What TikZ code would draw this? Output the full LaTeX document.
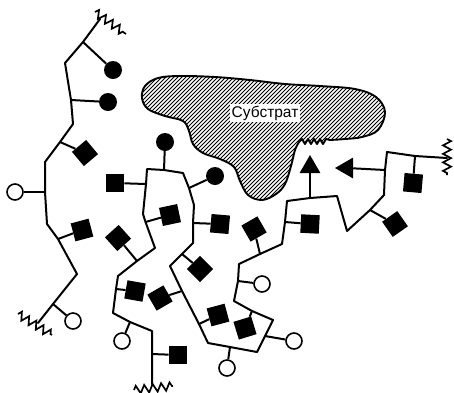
\documentclass[tikz,border=0pt]{standalone}
\usepackage{fontspec}
\setmainfont{Liberation Sans}
\usetikzlibrary{shapes.geometric,decorations.pathmorphing}

% outline of the substrate body, with the toothed binding edge
\newcommand{\substratepath}{%
  (299,142) -- (302,139) -- (305,144) -- (308,139) -- (311,144) -- (314,139)
  -- (317,144) -- (320,139) -- (323,144) -- (326,139) -- (330,140)
  -- plot[smooth, tension=0.6] coordinates {
    (330,140) (345,139) (362,137) (378,130) (385,112) (376,97) (355,89)
    (320,86) (285,84) (250,80) (215,77) (180,76) (158,78) (145,86)
    (142,98) (148,109) (165,116) (183,121) (189,131) (193,144) (203,153)
    (220,159) (234,167) (240,181) (248,195) (262,200) (276,194) (285,184)
    (291,166) (295,150) (299,142)} -- cycle}

\begin{document}
\begin{tikzpicture}[x=1pt,y=-1pt,
  chain/.style={line width=2pt, line join=round, line cap=round},
  link/.style={line width=2pt},
  sq/.style={rectangle, fill=black, minimum size=18.5pt, inner sep=0pt},
  dot/.style={circle, fill=black, minimum size=18pt, inner sep=0pt},
  ring/.style={circle, draw=black, fill=white, line width=1.6pt, minimum size=16pt, inner sep=0pt},
  tri/.style={regular polygon, regular polygon sides=3, fill=black, minimum size=24pt, inner sep=0pt},
  zz/.style={line width=1.7pt, decorate, decoration={zigzag, segment length=8.5pt, amplitude=4pt}},
]
\useasboundingbox (0,0) rectangle (454,392);

% ---------- substrate ----------
\begin{scope}
  \clip \substratepath;
  \foreach \i in {-20,-16,...,420} \draw[line width=0.8pt] (\i,215) -- ++(160,-160);
\end{scope}
\draw[line width=1.9pt, line join=round] \substratepath;
\node[fill=white, inner sep=1.6pt, font=\fontsize{15.5}{18}\selectfont] (label) at (265,113) {Субстрат};

% ---------- left chain ----------
\coordinate (a0) at (100,19);
\coordinate (a1) at (83,42);
\coordinate (a2) at (65,63);
\coordinate (a3) at (71,100);
\coordinate (a4) at (73,124);
\coordinate (a5) at (60,142);
\coordinate (a6) at (45,162);
\coordinate (a7) at (45,192);
\coordinate (a8) at (47,224);
\coordinate (a9) at (58,239);
\coordinate (a10) at (77,274);
\coordinate (a11) at (53,304);
\coordinate (a12) at (38,323);
\coordinate (za1) at (95,12);
\coordinate (za2) at (126,34);
\coordinate (zb1) at (18,314);
\coordinate (zb2) at (52,335);

\draw[chain] (a0) -- (a1) -- (a2) -- (a3) -- (a4) -- (a5) -- (a6) -- (a7)
  -- (a8) -- (a9) -- (a10) -- (a11) -- (a12);
\draw[zz] (za1) -- (za2);
\draw[zz] (zb1) -- (zb2);

\node[dot] (c1) at (113,70) {};
\node[dot] (c2) at (108,102) {};
\node[sq, rotate=40] (d1) at (85,153) {};
\node[ring] (o1) at (15,192) {};
\node[sq, rotate=15] (d2) at (82,230) {};
\node[ring] (o2) at (73,321) {};
\draw[link] (a1) -- (c1);
\draw[link] (a3) -- (c2);
\draw[link] (a5) -- (d1);
\draw[link] (a7) -- (o1);
\draw[link] (a9) -- (d2);
\draw[link] (a11) -- (o2);

% ---------- main chain ----------
\coordinate (b0) at (152,384);
\coordinate (b1) at (152,354);
\coordinate (b2) at (152,331);
\coordinate (b3) at (130,322);
\coordinate (b4) at (113,313);
\coordinate (b5) at (116,289);
\coordinate (b6) at (118,276);
\coordinate (b7) at (137,261);
\coordinate (b8) at (155,248);
\coordinate (b9) at (145.5,222);
\coordinate (b10) at (143,214);
\coordinate (b11) at (146,184);
\coordinate (b12) at (147,169);
\coordinate (b13) at (164,170);
\coordinate (b14) at (183,173);
\coordinate (b15) at (189,188);
\coordinate (b16) at (194,205);
\coordinate (b17) at (193,223);
\coordinate (b18) at (193,243);
\coordinate (b19) at (182,254);
\coordinate (b20) at (170,266);
\coordinate (b21) at (182,291);
\coordinate (b22) at (199,324);
\coordinate (b23) at (208,343);
\coordinate (b24) at (230,347);
\coordinate (b25) at (257,352);
\coordinate (b26) at (265,336);
\coordinate (b27) at (273,320);
\coordinate (b28) at (252,311);
\coordinate (b29) at (234,301);
\coordinate (b30) at (238,281);
\coordinate (b31) at (239,264);
\coordinate (b32) at (260,254);
\coordinate (b33) at (282,244);
\coordinate (b34) at (285,222);
\coordinate (b35) at (287,201);
\coordinate (b36) at (310,198);
\coordinate (b37) at (337,196);
\coordinate (b38) at (347,231);
\coordinate (b39) at (370,210);
\coordinate (b40) at (384,195);
\coordinate (b41) at (385,170);
\coordinate (b42) at (387,152);
\coordinate (b43) at (415,156);
\coordinate (b44) at (447,158);
\coordinate (zc1) at (134,390);
\coordinate (zc2) at (173,386);
\coordinate (zd1) at (447,139);
\coordinate (zd2) at (447,175);

\draw[chain] (b0) -- (b1) -- (b2) -- (b3) -- (b4) -- (b5) -- (b6) -- (b7)
  -- (b8) -- (b9) -- (b10) -- (b11) -- (b12) -- (b13) -- (b14) -- (b15)
  -- (b16) -- (b17) -- (b18) -- (b19) -- (b20) -- (b21) -- (b22) -- (b23)
  -- (b24) -- (b25) -- (b26) -- (b27) -- (b28) -- (b29) -- (b30) -- (b31)
  -- (b32) -- (b33) -- (b34) -- (b35) -- (b36) -- (b37) -- (b38) -- (b39)
  -- (b40) -- (b41) -- (b42) -- (b43) -- (b44);
\draw[zz] (zc1) -- (zc2);
\draw[zz] (zd1) -- (zd2);

\node[sq] (s9) at (178,355) {};
\node[ring] (o3) at (122,341) {};
\node[sq, rotate=-10] (s2) at (135,291) {};
\node[sq, rotate=42] (d4) at (118,238) {};
\node[sq, rotate=12] (d3) at (170,215) {};
\node[sq] (s1) at (115,183) {};
\node[dot] (c3) at (165,142) {};
\node[dot] (c4) at (215,176) {};
\node[sq, rotate=-5] (s3) at (220,224) {};
\node[sq, rotate=45] (d5) at (200,269) {};
\node[sq, rotate=30] (s4) at (160,298) {};
\node[sq, rotate=15] (s5) at (218,315) {};
\node[ring] (o4) at (227,368) {};
\node[ring] (o5) at (294,341) {};
\node[sq, rotate=17] (s6) at (245,328) {};
\node[ring] (o6) at (262,284) {};
\node[sq, rotate=30] (d6) at (254,229) {};
\node[sq, rotate=-3] (s7) at (310,224) {};
\node[tri] (up) at (310,167) {};
\node[sq, rotate=35] (d7) at (395,224) {};
\node[tri, rotate=90] (left) at (347,168) {};
\node[sq, rotate=-5] (s8) at (413,183) {};

\draw[link] (b1) -- (s9);
\draw[link] (b3) -- (o3);
\draw[link] (b5) -- (s2);
\draw[link] (b7) -- (d4);
\draw[link] (b9) -- (d3);
\draw[link] (b11) -- (s1);
\draw[link] (b13) -- (c3);
\draw[link] (b15) -- (c4);
\draw[link] (b17) -- (s3);
\draw[link] (b19) -- (d5);
\draw[link] (b21) -- (s4);
\draw[link] (b22) -- (s5);
\draw[link] (b24) -- (o4);
\draw[link] (b26) -- (o5);
\draw[link] (b28) -- (s6);
\draw[link] (b30) -- (o6);
\draw[link] (b32) -- (d6);
\draw[link] (b34) -- (s7);
\draw[link] (b36) -- (up);
\draw[link] (b39) -- (d7);
\draw[link] (b41) -- (left);
\draw[link] (b43) -- (s8);
\end{tikzpicture}
\end{document}
